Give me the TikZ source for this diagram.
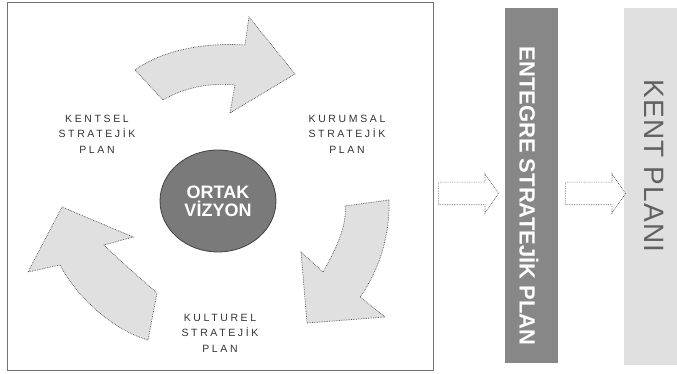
\documentclass[tikz,border=0pt]{standalone}
\usepackage{fontspec}
\setmainfont{Liberation Sans}
\newfontfamily\spacedfont[LetterSpace=25]{Liberation Sans}
\newfontfamily\barfont[LetterSpace=4]{Liberation Sans}
\usetikzlibrary{shapes.geometric,shapes.arrows}

\begin{document}
\begin{tikzpicture}[x=1pt,y=1pt,
  curvearrow/.style={draw=black!70,densely dotted,line width=0.7pt,fill=black!12},
  planlabel/.style={align=center,text=black!80,font=\spacedfont\fontsize{10.5}{15.5}\selectfont},
  vision/.style={ellipse,draw=black!75,line width=0.8pt,fill=black!52,minimum width=116pt,
    minimum height=102pt,inner sep=0pt,align=center,text=white,font=\bfseries\fontsize{18}{18}\selectfont},
  blockarrow/.style={single arrow,draw=black!65,densely dotted,line width=0.7pt,fill=white,
    inner xsep=0pt,inner ysep=11pt,minimum height=60pt,single arrow head extend=8.5pt,
    single arrow tip angle=112},
  barbox/.style={rectangle,draw=none,minimum width=53pt,minimum height=355pt}]
  \useasboundingbox (0,0) rectangle (677,374);

  % frame round the three plans
  \draw[black!55,line width=0.6pt] (7,4) rectangle (433,372);

  % common vision in the middle
  \node[vision] (vizyon) at (218,173) {ORTAK\\VİZYON};

  % the three strategic plans
  \node[planlabel] (kentsel)  at (97,240)  {KENTSEL\\STRATEJİK\\PLAN};
  \node[planlabel] (kurumsal) at (347,240) {KURUMSAL\\STRATEJİK\\PLAN};
  \node[planlabel] (kulturel) at (220,41)  {KULTUREL\\STRATEJİK\\PLAN};

  % curved arrows, clockwise: top, right, left
  \draw[curvearrow] (135,304) .. controls (160,322) and (200,332) .. (245,329)
    -- (249,357) -- (295,300) -- (230,261) -- (235,289)
    .. controls (205,292) and (180,284) .. (163,274) -- cycle;
  \draw[curvearrow] (389,174) .. controls (390,140) and (380,105) .. (360,77)
    -- (385,57) -- (307,51) -- (301,122) -- (323,102)
    .. controls (338,128) and (347,150) .. (345,168) -- cycle;
  \draw[curvearrow] (148,34) .. controls (110,45) and (75,80) .. (60,109)
    -- (28,102) -- (62,167) -- (133,137) -- (104,129)
    .. controls (120,113) and (140,96) .. (157,81) -- cycle;

  % integrated plan and city plan
  \node[barbox,fill=black!47] (entegre) at (531.5,188.5) {};
  \node[barbox,fill=black!12,minimum height=357pt] (kent) at (650,187.5) {};
  \node[rotate=-90,text=white,font=\bfseries\fontsize{22}{22}\selectfont]
    (entegretext) at (529,178) {ENTEGRE STRATEJİK PLAN};
  \node[rotate=-90,text=black!62,font=\barfont\fontsize{28}{28}\selectfont]
    (kenttext) at (654,208) {KENT PLANI};

  % block arrows between the stages
  \node[blockarrow,anchor=tail] (ok1) at (438,180.5) {};
  \node[blockarrow,anchor=tail] (ok2) at (565,180.5) {};
\end{tikzpicture}
\end{document}
